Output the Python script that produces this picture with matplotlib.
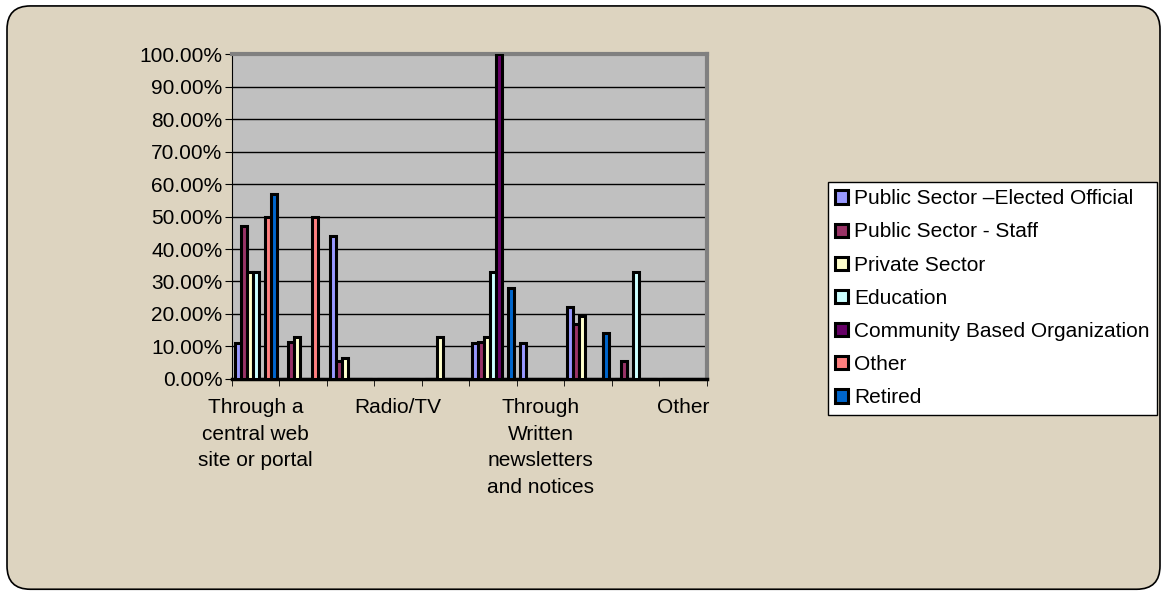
import numpy as np
import matplotlib
matplotlib.use("Agg")
from matplotlib import pyplot as plt
from matplotlib.patches import FancyBboxPatch

plt.rcParams['font.family'] = ['Liberation Sans', 'DejaVu Sans']

# ten categories, only every third one carries a label in the original
tick_labels = ['Through a\ncentral web\nsite or portal', '', '', 'Radio/TV', '', '',
               'Through\nWritten\nnewsletters\nand notices', '', '', 'Other']

series_names = ['Public Sector \u2013Elected Official', 'Public Sector - Staff',
                'Private Sector', 'Education', 'Community Based Organization',
                'Other', 'Retired']
elected = [11, 0, 44, 0, 0, 11, 11, 22, 0, 0]
staff = [47, 11.5, 5.5, 0, 0, 11.5, 0, 17, 5.5, 0]
private = [33, 13, 6.5, 0, 13, 13, 0, 19.5, 0, 0]
education = [33, 0, 0, 0, 0, 33, 0, 0, 33, 0]
cbo = [0, 0, 0, 0, 0, 100, 0, 0, 0, 0]
other = [50, 50, 0, 0, 0, 0, 0, 0, 0, 0]
retired = [57, 0, 0, 0, 0, 28, 0, 14, 0, 0]
series = [elected, staff, private, education, cbo, other, retired]
colors = ['#9999FF', '#993366', '#FFFFCC', '#CCFFFF', '#660066', '#FF8080', '#0066CC']

fig = plt.figure(figsize=(11.67, 5.94), dpi=100)
fig.patch.set_facecolor('white')

# beige rounded panel behind everything
bg = FancyBboxPatch((0.006, 0.008), 0.988, 0.982, boxstyle='round,pad=0,rounding_size=0.02',
                    transform=fig.transFigure, facecolor='#DDD4C0', edgecolor='black',
                    linewidth=1.2, mutation_aspect=1167/594, zorder=-10)
fig.patches.append(bg)

ax = fig.add_axes([0.1988, 0.362, 0.407, 0.547])
ax.set_facecolor('#C0C0C0')

x = np.arange(len(tick_labels))
w = 0.125
for i, (vals, c, name) in enumerate(zip(series, colors, series_names)):
    ax.bar(x + (i - 3) * w, vals, width=w, color=c, edgecolor='black',
           linewidth=2.2, label=name, zorder=3)

ax.set_xlim(-0.5, len(tick_labels) - 0.5)
ax.set_ylim(0, 100)
ax.set_yticks(np.arange(0, 101, 10))
ax.set_yticklabels(['%.2f%%' % v for v in np.arange(0, 101, 10)], fontsize=15)
ax.set_xticks(x)
ax.set_xticklabels(tick_labels, fontsize=15, linespacing=1.5, va='top')
ax.set_xticks(np.arange(-0.5, len(tick_labels)), minor=True)
ax.tick_params(axis='x', which='major', length=0, pad=14)
ax.tick_params(axis='x', which='minor', length=5, color='black')
ax.tick_params(axis='y', length=5, color='black', pad=2)
ax.grid(axis='y', color='black', linewidth=1, zorder=1)
ax.set_axisbelow(True)
for s in ['top', 'right']:
    ax.spines[s].set_color('#808080')
    ax.spines[s].set_linewidth(3)
ax.spines['left'].set_color('black')
ax.spines['bottom'].set_color('black')
ax.spines['bottom'].set_linewidth(2.5)

leg = fig.legend(loc='upper left', bbox_to_anchor=(0.7095, 0.6936), fontsize=15,
                 frameon=True, fancybox=False, edgecolor='black', facecolor='white',
                 framealpha=1, handlelength=0.6, handleheight=0.6, handletextpad=0.3,
                 labelspacing=0.68, borderpad=0.35, borderaxespad=0)
leg.get_frame().set_linewidth(1)

fig.savefig('out.png', dpi=100, facecolor=fig.get_facecolor())
